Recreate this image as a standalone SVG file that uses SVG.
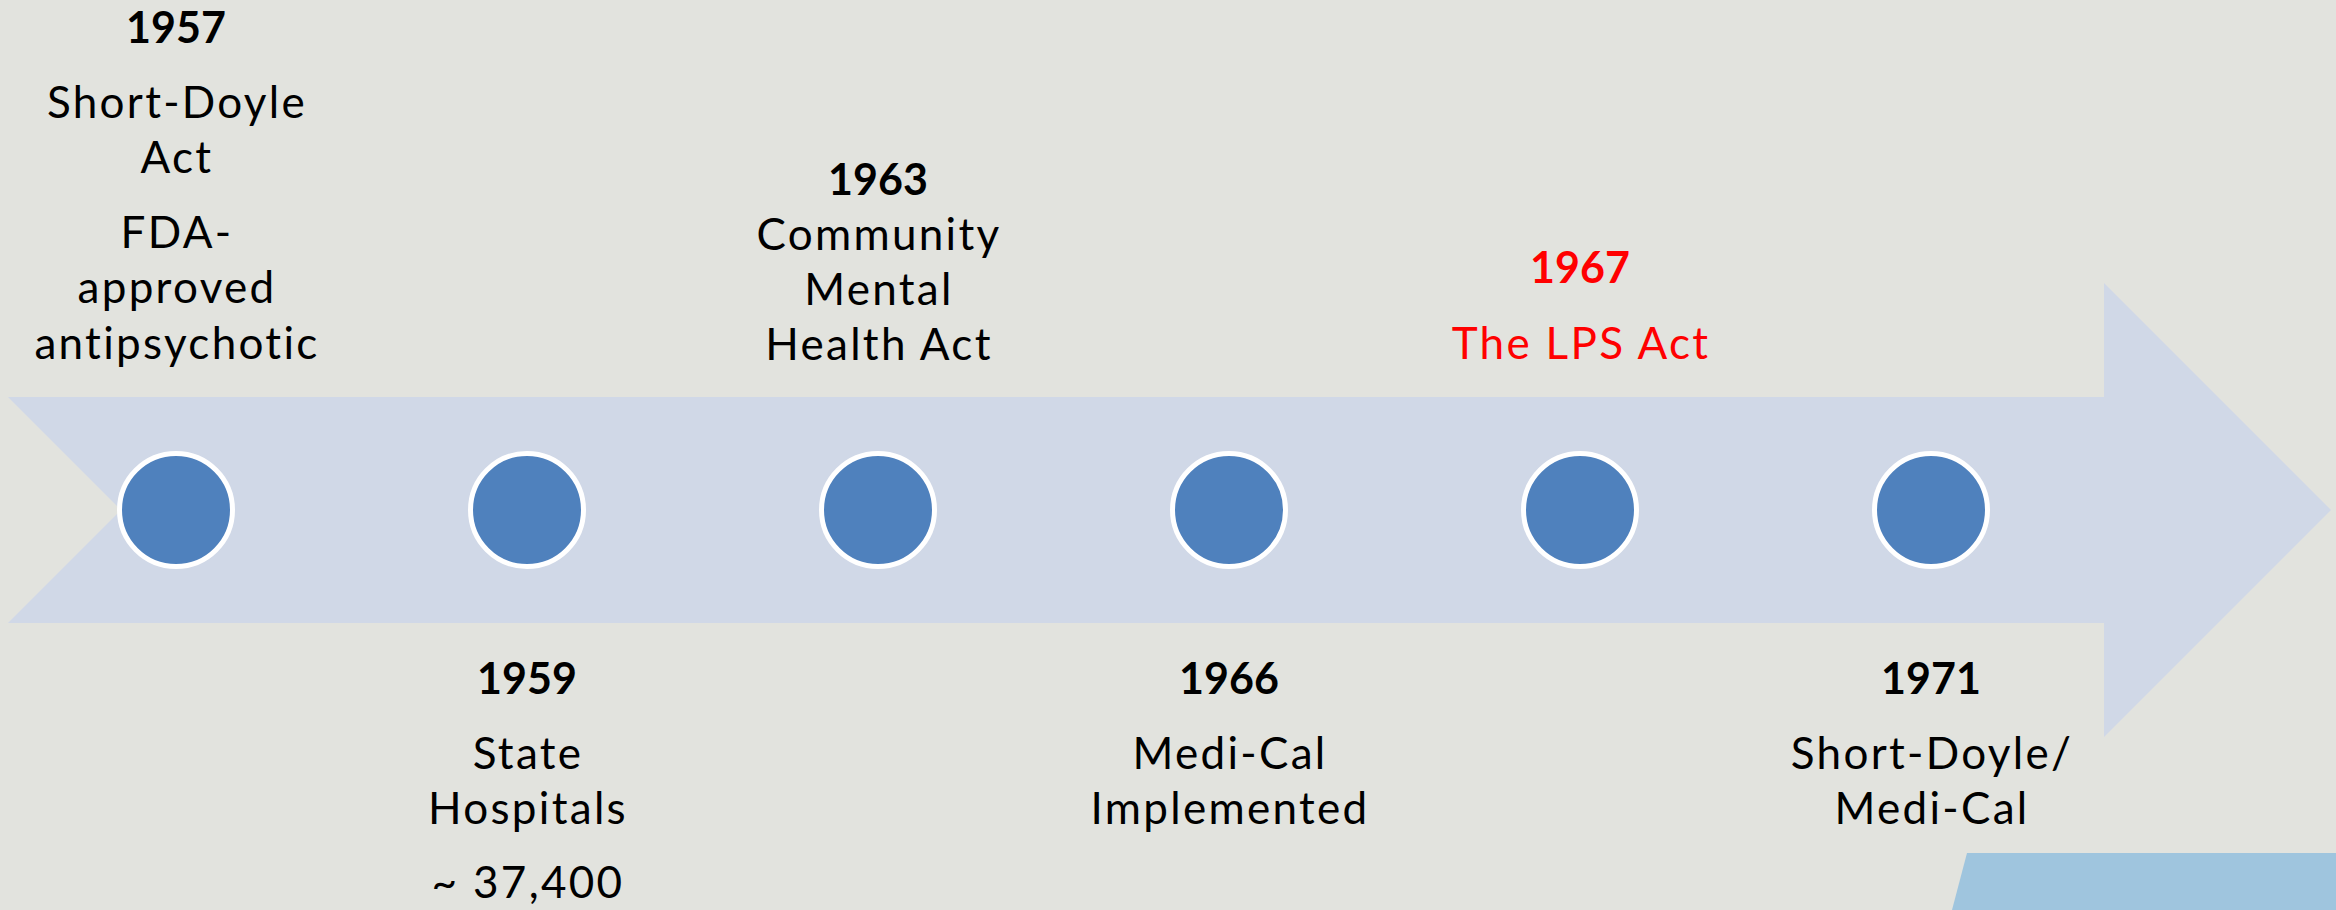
<svg xmlns="http://www.w3.org/2000/svg" width="2336" height="910" viewBox="0 0 2336 910">
  <style>
    .yr { font-family: Lato, "Open Sans", "Liberation Sans", sans-serif; font-weight: 700; font-size: 43px; fill: #000; text-anchor: middle; }
    .lbl { font-family: Lato, "Open Sans", "Liberation Sans", sans-serif; font-size: 44px; letter-spacing: 2.3px; font-variant-ligatures: none; fill: #000; text-anchor: middle; }
    .hl { fill: #ff0000; }
    .dot { fill: #4f81bd; stroke: #ffffff; stroke-width: 5; }
  </style>
  <rect width="2336" height="910" fill="#e2e3de"/>
  <!-- corner accent -->
  <polygon points="1967,853 2336,853 2336,910 1952,910" fill="#9fc5de"/>
  <!-- timeline arrow -->
  <g id="connectors">
    <polygon points="8,397 2104,397 2104,283 2331,510 2104,737 2104,623 8,623 121,510" fill="#d0d8e7"/>
  </g>
  <g id="n1957">
    <circle class="dot" cx="176" cy="510" r="56.5"/>
    <text class="yr" x="176" y="43">1957</text>
    <text class="lbl" x="177" y="118">Short-Doyle</text>
    <text class="lbl" x="177" y="173">Act</text>
    <text class="lbl" x="177" y="248">FDA-</text>
    <text class="lbl" x="177" y="303">approved</text>
    <text class="lbl" x="177" y="359">antipsychotic</text>
  </g>
  <g id="n1959">
    <circle class="dot" cx="527" cy="510" r="56.5"/>
    <text class="yr" x="527" y="694">1959</text>
    <text class="lbl" x="528" y="769">State</text>
    <text class="lbl" x="528" y="824">Hospitals</text>
    <text class="lbl" x="528" y="898">~ 37,400</text>
  </g>
  <g id="n1963">
    <circle class="dot" cx="878" cy="510" r="56.5"/>
    <text class="yr" x="878" y="195">1963</text>
    <text class="lbl" x="879" y="250">Community</text>
    <text class="lbl" x="879" y="305">Mental</text>
    <text class="lbl" x="879" y="360">Health Act</text>
  </g>
  <g id="n1966">
    <circle class="dot" cx="1229" cy="510" r="56.5"/>
    <text class="yr" x="1229" y="694">1966</text>
    <text class="lbl" x="1230" y="769">Medi-Cal</text>
    <text class="lbl" x="1230" y="824">Implemented</text>
  </g>
  <g id="n1967">
    <circle class="dot" cx="1580" cy="510" r="56.5"/>
    <text class="yr hl" x="1580" y="283">1967</text>
    <text class="lbl hl" x="1581" y="359">The LPS Act</text>
  </g>
  <g id="n1971">
    <circle class="dot" cx="1931" cy="510" r="56.5"/>
    <text class="yr" x="1931" y="694">1971</text>
    <text class="lbl" x="1932" y="769">Short-Doyle/</text>
    <text class="lbl" x="1932" y="824">Medi-Cal</text>
  </g>
</svg>
